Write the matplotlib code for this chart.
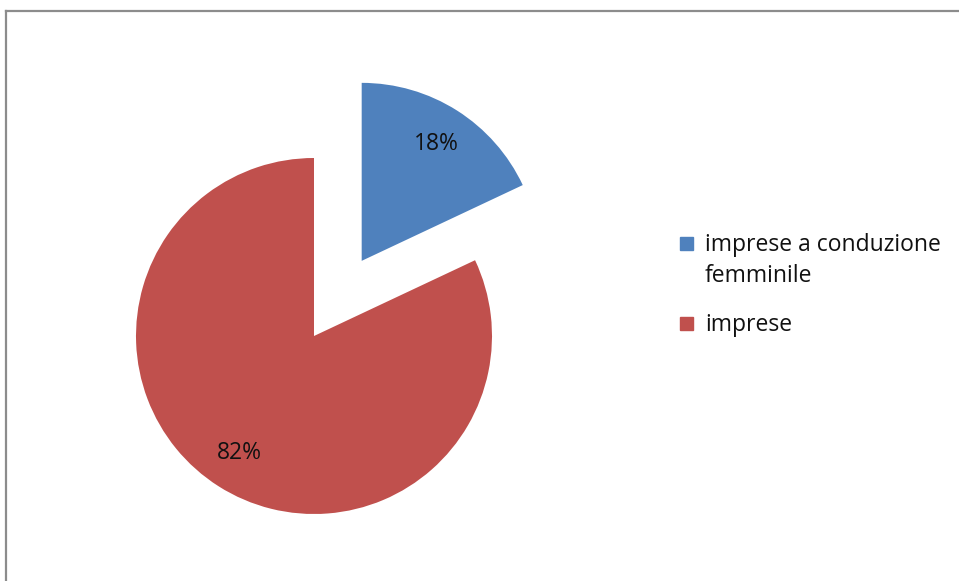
import matplotlib.pyplot as plt
from matplotlib.lines import Line2D
from matplotlib.patches import Rectangle

# dati
labels = ['imprese a conduzione\nfemminile', 'imprese']
values = [18, 82]
colors = ['#4F81BD', '#C0504D']
explode = [0.5, 0]

W, H = 959, 581
fig = plt.figure(figsize=(W / 100, H / 100), dpi=100)

# --- torta ---
R = 178          # raggio in pixel
cx, cy = 314, 336  # centro della fetta rossa (pixel dall'alto)
L = 1.6
S = 2 * L * R
ax = fig.add_axes([(cx - S / 2) / W, (H - cy - S / 2) / H, S / W, S / H])
wedges, texts, autotexts = ax.pie(values, colors=colors, explode=explode,
                                  startangle=90, counterclock=False,
                                  autopct='%1.0f%%', pctdistance=0.78,
                                  textprops={'fontsize': 16.5, 'family': 'Open Sans', 'color': '#111111'})
ax.set_xlim(-L, L)
ax.set_ylim(-L, L)
ax.set_aspect('equal')
ax.axis('off')

# --- legenda (manuale) ---
leg_y = [243, 323]
for lab, col, y in zip(labels, colors, leg_y):
    fig.patches.append(Rectangle((680 / W, (H - y - 7) / H), 13 / W, 13 / H,
                                 transform=fig.transFigure, color=col))
    fig.text(705 / W, (H - y) / H + 0.017, lab, fontsize=16.5, family='Open Sans',
             color='#111111', va='top', ha='left', linespacing=1.38)

# --- cornice ---
gray = '#8c8c8c'
fig.lines.append(Line2D([6 / W, 1], [(H - 11) / H, (H - 11) / H],
                        transform=fig.transFigure, color=gray, lw=1.6))
fig.lines.append(Line2D([6 / W, 6 / W], [0, (H - 11) / H],
                        transform=fig.transFigure, color=gray, lw=1.6))

fig.savefig('out.png', dpi=100)
